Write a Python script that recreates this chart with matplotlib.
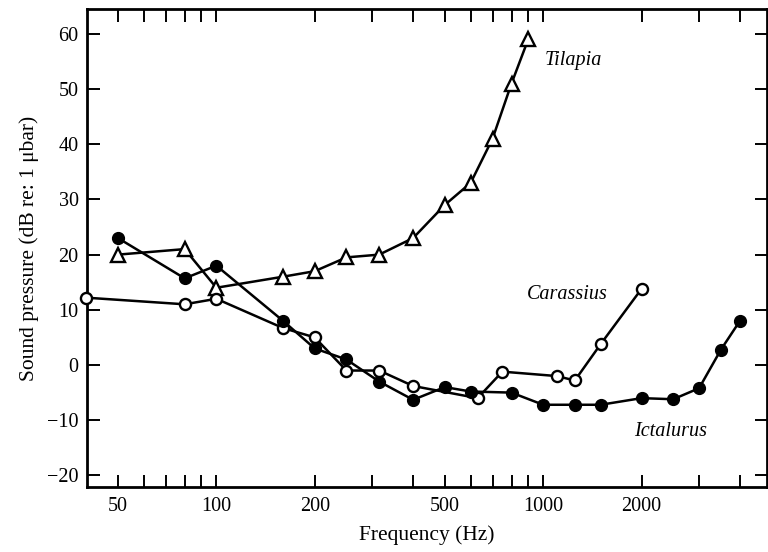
import matplotlib
matplotlib.use("Agg")
import matplotlib.pyplot as plt
from matplotlib.ticker import FixedLocator, NullFormatter, NullLocator

# Hearing thresholds
tilapia_freq = [50, 80, 100, 160, 200, 250, 315, 400, 500, 600, 700, 800, 900]
tilapia_db = [20, 21, 14, 16, 17, 19.5, 20, 23, 29, 33, 41, 51, 59]

ictalurus_freq = [50, 80, 100, 160, 200, 250, 315, 400, 500, 600, 800,
                  1000, 1250, 1500, 2000, 2500, 3000, 3500, 4000]
ictalurus_db = [23, 15.7, 18, 8, 3, 1, -3, -6.3, -4, -4.8, -5,
                -7.2, -7.2, -7.2, -6, -6.2, -4.2, 2.8, 8]

carassius_freq = [40, 80, 100, 160, 200, 250, 315, 400, 630, 750, 1100, 1250, 1500, 2000]
carassius_db = [12.2, 11, 12, 6.7, 5, -1, -1, -3.8, -6, -1.2, -2, -2.8, 3.8, 13.8]

major_ticks = [50, 100, 200, 500, 1000, 2000]
tick_marks = [50, 60, 70, 80, 90, 100, 200, 300, 400, 500, 600, 700, 800, 900,
              1000, 2000, 3000, 4000]
y_ticks = [-20, -10, 0, 10, 20, 30, 40, 50, 60]

plt.rcParams['font.family'] = ['Liberation Serif', 'DejaVu Serif']

fig = plt.figure(figsize=(7.68, 5.52), dpi=100)
ax = fig.add_axes([87 / 768, 1 - 487 / 552, (767 - 87) / 768, (487 - 9) / 552])

line_kw = dict(color='black', linewidth=1.8, clip_on=False, zorder=3)
ax.plot(tilapia_freq, tilapia_db, marker='^', markersize=10.5,
        markerfacecolor='white', markeredgecolor='black', markeredgewidth=1.7, **line_kw)
ax.plot(carassius_freq, carassius_db, marker='o', markersize=8,
        markerfacecolor='white', markeredgecolor='black', markeredgewidth=1.7, **line_kw)
ax.plot(ictalurus_freq, ictalurus_db, marker='o', markersize=8.5,
        markerfacecolor='black', markeredgecolor='black', **line_kw)

ax.set_xscale('log')
ax.set_xlim(40.2, 4840)
ax.set_ylim(-22.1, 64.5)

ax.xaxis.set_major_locator(FixedLocator(tick_marks))
ax.xaxis.set_major_formatter(
    plt.FuncFormatter(lambda v, p: f"{int(round(v))}" if int(round(v)) in major_ticks else ""))
ax.xaxis.set_minor_locator(NullLocator())
ax.xaxis.set_minor_formatter(NullFormatter())
ax.set_yticks(y_ticks)

ax.tick_params(axis='both', direction='in', length=9, width=1.4, labelsize=14.5,
               top=True, right=True)
ax.tick_params(axis='x', pad=7)
ax.tick_params(axis='y', pad=6)
for s in ax.spines.values():
    s.set_linewidth(2)

ax.set_xlabel('Frequency (Hz)', fontsize=15.5, labelpad=7)
ax.set_ylabel('Sound pressure (dB re: 1 \u03bcbar)', fontsize=15.5, labelpad=6)

ax.text(1010, 55.2, 'Tilapia', fontsize=14.5, style='italic', va='center')
ax.text(890, 12.7, 'Carassius', fontsize=14.5, style='italic', va='center')
ax.text(1900, -12, 'Ictalurus', fontsize=14.5, style='italic', va='center')

fig.savefig('out.png', dpi=100)
